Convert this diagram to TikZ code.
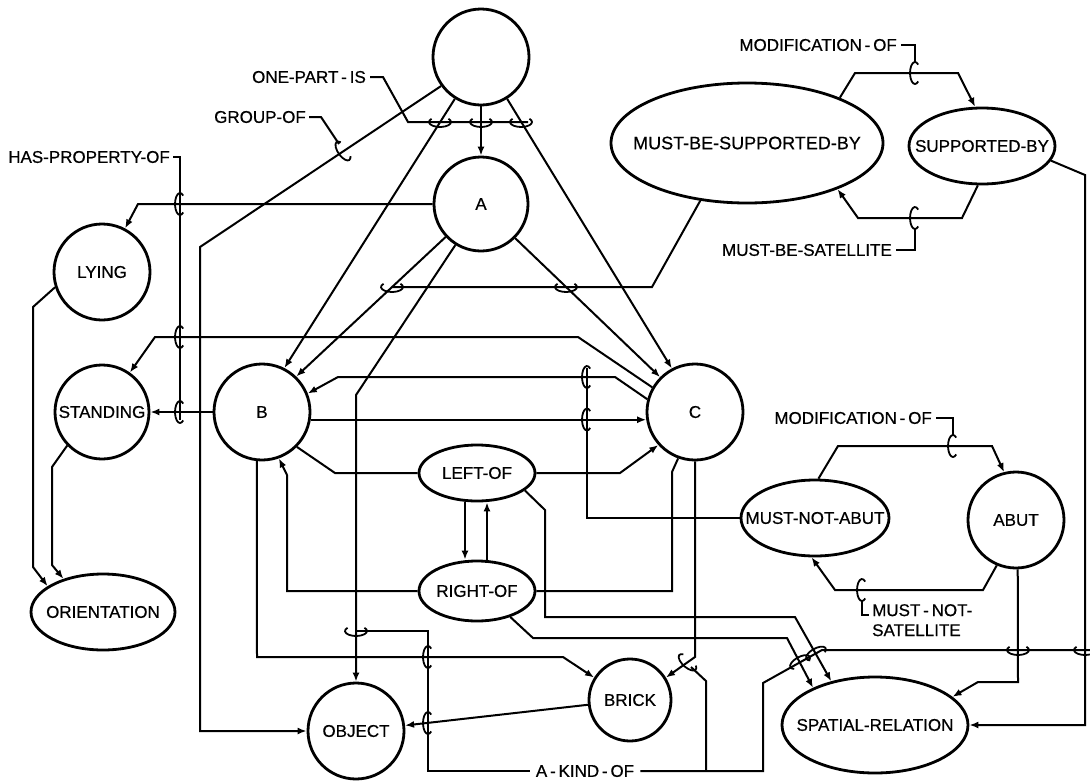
\documentclass[tikz,border=0pt]{standalone}
\usepackage{fontspec}
\setmainfont{Liberation Sans}[FakeBold=0.6]
\usetikzlibrary{arrows.meta,shapes.geometric}
\tikzset{
  nd/.style={draw,line width=2.8pt,circle,inner sep=0pt},
  el/.style={draw,line width=2.8pt,ellipse,inner sep=0pt},
  con/.style={line width=2pt,line join=miter},
  arr/.style={con,-{Latex[length=9pt,width=7pt]}},
  lbl/.style={inner sep=0pt},
  hk/.pic={\draw[line width=1.8pt] (3.21pt,8.43pt) arc[start angle=50,end angle=310,x radius=5pt,y radius=11pt];}
}
\begin{document}
\begin{tikzpicture}[x=1pt,y=-1pt,every node/.style={font=\fontsize{17}{20}\selectfont}]
\useasboundingbox (0,0) rectangle (1090,782);
% nodes
\node[nd,minimum size=96pt] (top) at (481,57) {};
\node[nd,minimum size=94pt] (A) at (481,204) {A};
\node[nd,minimum size=96pt] (B) at (262,412) {B};
\node[nd,minimum size=96pt] (C) at (695,412) {C};
\node[nd,minimum size=96pt] (lying) at (102,272) {LYING};
\node[nd,minimum size=94pt] (standing) at (102,412) {STANDING};
\node[el,minimum width=144pt,minimum height=76pt,label={[name=orientt]center:ORIENTATION}] (orient) at (103,612) {};
\node[nd,minimum size=96pt] (object) at (356,731) {OBJECT};
\node[nd,minimum size=82pt] (brick) at (630,700) {BRICK};
\node[el,minimum width=116pt,minimum height=56pt,label={[name=leftoft]center:LEFT-OF}] (leftof) at (477,473) {};
\node[el,minimum width=116pt,minimum height=60pt,label={[name=rightoft]center:RIGHT-OF}] (rightof) at (477,591) {};
\node[el,minimum width=148pt,minimum height=76pt,label={[name=mnat]center:MUST-NOT-ABUT}] (mna) at (815,518) {};
\node[nd,minimum size=96pt] (abut) at (1016,520) {ABUT};
\node[el,minimum width=186pt,minimum height=96pt,label={[name=spatialt]center:SPATIAL-RELATION}] (spatial) at (875,725) {};
\node[el,minimum width=272pt,minimum height=120pt,label={[name=mbsbt,font=\fontsize{18}{20}\selectfont]center:MUST-BE-SUPPORTED-BY}] (mbsb) at (747,143) {};
\node[el,minimum width=146pt,minimum height=76pt,label={[name=sbt]center:SUPPORTED-BY}] (sb) at (982,146) {};
% labels
\node[lbl,anchor=east] (t1) at (366,77) {ONE-PART\,-\,IS};
\node[lbl,anchor=east] (t2) at (306,117) {GROUP-OF};
\node[lbl,anchor=east] (t3) at (170,157) {HAS-PROPERTY-OF};
\node[lbl,anchor=east] (t4) at (897,45) {MODIFICATION\,-\,OF};
\node[lbl,anchor=east] (t5) at (892,250) {MUST-BE-SATELLITE};
\node[lbl,anchor=east] (t6) at (932,418) {MODIFICATION\,-\,OF};
\node[lbl,anchor=north west,align=left] (t7) at (872,604) {MUST\,-\,NOT-\\SATELLITE};
\node[lbl] (t8) at (585,771) {A\,-\,KIND\,-\,OF};
% relations
\draw[arr] (top.south) -- (A.north);
\draw[arr] (top.238) -- (B.63);
\draw[arr] (top.302) -- (C.118);
\draw[arr] (top.216) -- (200,247) -- (200,731) -- (object.west);
\draw[arr] (A.west) -- (138,204) -- (lying);
\draw[arr] (A.223) -- (B.46);
\draw[arr] (A.315) -- (C.135);
\draw[arr] (A.238) -- (356,395) -- (object.north);
\draw[arr] (C.150) -- (578,337) -- (155,337) -- (standing);
\draw[arr] (B.west) -- (standing.east);
\draw[arr] (B.351) -- (C.189);
\draw[arr] (C.165) -- (615,377) -- (338,377) -- (B.22);
\draw[con] (B.315) -- (335,473) -- (leftof.west);
\draw[arr] (leftof.east) -- (620,473) -- (C.222);
\draw[con] (C.250) -- (672,472) -- (672,591) -- (rightof.east);
\draw[arr] (rightof.west) -- (287,591) -- (287,475) -- (B.290);
\draw[arr] ([xshift=-12pt]leftof.south) -- ([xshift=-12pt]rightof.north);
\draw[arr] ([xshift=10pt]rightof.north) -- ([xshift=10pt]leftof.south);
\draw[arr] (leftof.340) -- (545,510) -- (545,617) -- (795,617) -- (spatial.135);
\draw[arr] (rightof.322) -- (533,638) -- (787,638) -- (spatial.149);
\draw[arr] (B.264) -- (257,657) -- (563,657) -- (brick.148);
\draw[arr] (C.south) -- (695,657) -- (brick.32);
\draw[arr] (brick) -- (object);
\draw[arr] (lying.198) -- (33,307) -- (33,567) -- (orient.155);
\draw[arr] (standing.224) -- (52,467) -- (52,565) -- (orient.140);
\draw[arr] (mbsb.26) -- (855,73) -- (958,73) -- (sb.100);
\draw[arr] (sb.264) -- (962,218) -- (858,218) -- (mbsb.333);
\draw[con] (mbsb.231) -- (652,287) -- (392,287);
\draw[arr] (sb.348) -- (1085,175) -- (1085,725) -- (spatial.east);
\draw[arr] (mna.85) -- (838,446) -- (992,446) -- (abut.104);
\draw[arr] (abut.247) -- (983,590) -- (835,590) -- (mna.265);
\draw[arr] (abut.272) -- (1018,682) -- (978,682) -- (spatial.20);
\draw[con] (mna.west) -- (587,518) -- (587,368);
% label leaders
\draw[con] ([xshift=4pt]t1.east) -- (383,77) -- (408,122) -- (528,122);
\draw[con] ([xshift=3pt]t2.east) -- (321,117) -- (339,144);
\draw[con] ([xshift=3pt]t3.east) -- (180,157) -- (180,420);
\draw[con] ([xshift=4pt]t4.east) -- (915,45) -- (915,63);
\draw[con] ([xshift=4pt]t5.east) -- (915,250) -- (915,228);
\draw[con] ([xshift=4pt]t6.east) -- (953,418) -- (953,436);
\draw[con] (862,600) -- (862,615) -- (869,615);
\draw[con] ([xshift=-6pt]t8.west) -- (428,771) -- (428,631) -- (356,631);
\draw[con] ([xshift=6pt]t8.east) -- (763,771) -- (763,683) -- (822,650) -- (1090,650);
\draw[con] (706,771) -- (706,681) -- (691,667);
% hooks
\pic[rotate=90] at (440,122) {hk};
\pic[rotate=90] at (481,122) {hk};
\pic[rotate=90] at (521,122) {hk};
\pic[rotate=35] at (343,151) {hk};
\pic at (180,204) {hk};
\pic at (180,337) {hk};
\pic at (180,412) {hk};
\pic at (587,377) {hk};
\pic at (587,419.5) {hk};
\pic at (915,73) {hk};
\pic at (915,218) {hk};
\pic at (953,446) {hk};
\pic at (862,590) {hk};
\pic[rotate=90] at (392,287) {hk};
\pic[rotate=90] at (566,287) {hk};
\pic[rotate=90] at (356,631) {hk};
\pic at (428,657) {hk};
\pic at (428,723) {hk};
\pic[rotate=48] at (687.5,662.3) {hk};
\pic[rotate=-61] at (800,662) {hk};
\pic[rotate=-61] at (816,653.5) {hk};
\pic[rotate=90] at (1018,650) {hk};
\pic[rotate=90] at (1085,650) {hk};
\end{tikzpicture}
\end{document}
